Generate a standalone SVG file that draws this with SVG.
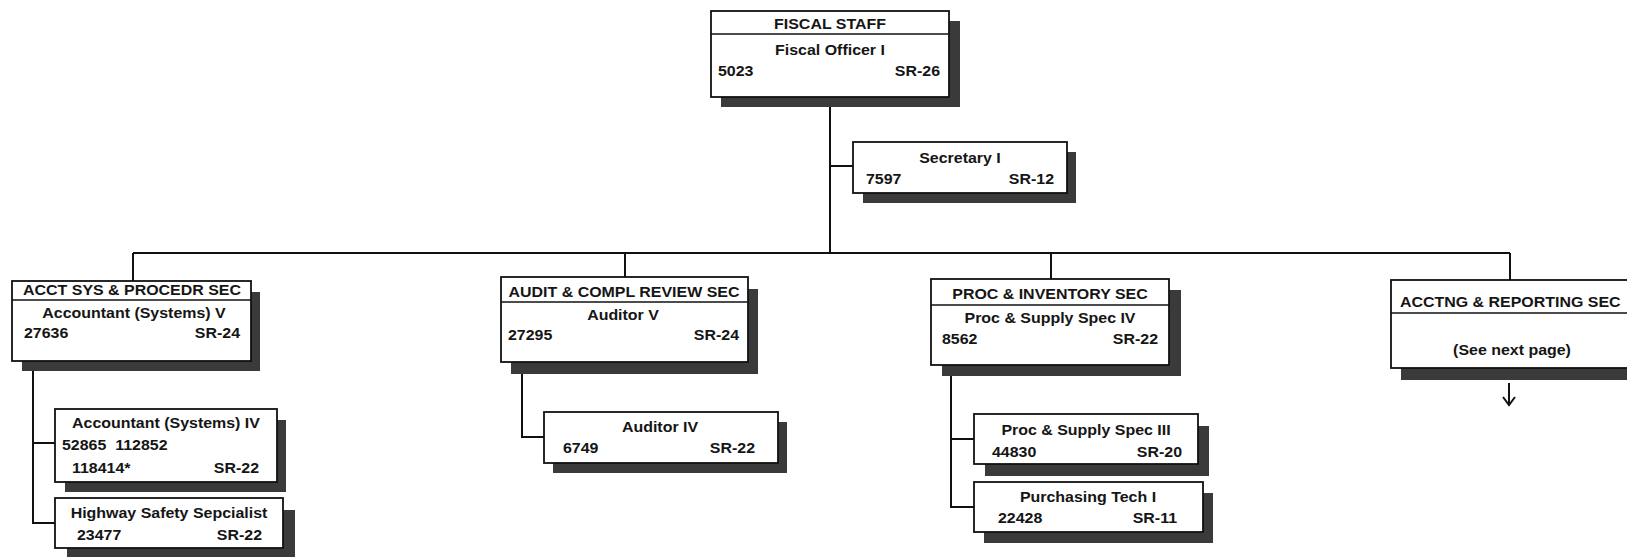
<svg xmlns="http://www.w3.org/2000/svg" width="1627" height="557" viewBox="0 0 1627 557">
<style>
.bg{fill:#ffffff}
.sh{fill:#3a3a3a}
.bx{fill:#ffffff;stroke:#111;stroke-width:1.8}
.ln{fill:none;stroke:#111;stroke-width:2}
.t{font-family:"Liberation Sans",Arial,Helvetica,sans-serif;font-weight:bold;font-size:14.5px;fill:#151515;white-space:pre}
.m{text-anchor:middle}
.e{text-anchor:end}
</style>
<rect class="bg" x="0" y="0" width="1627" height="557"/>
<g id="connectors">
<path class="ln" d="M830 97V253M830 166H853M133 253H1510M133 253V281M625 253V277M1051 253V279M1510 253V280"/>
<path class="ln" d="M33 361V523H55M33 443H55"/>
<path class="ln" d="M522 362V437H544"/>
<path class="ln" d="M951 365V507H974M951 439H974"/>
<path class="ln" d="M1509 383V405M1503 397L1509 405L1515 397"/>
</g>
<g id="fiscal-staff">
<rect class="sh" x="721" y="21" width="239" height="86"/>
<rect class="bx" x="711" y="11" width="238" height="86"/>
<path class="ln" d="M711 34H949" style="stroke-width:1.5"/>
<text class="t m" transform="translate(830 29) scale(1.1 1)">FISCAL STAFF</text>
<text class="t m" transform="translate(830 55) scale(1.1 1)">Fiscal Officer I</text>
<text class="t" transform="translate(718 76) scale(1.1 1)">5023</text>
<text class="t e" transform="translate(940 76) scale(1.1 1)">SR-26</text>
</g>
<g id="secretary">
<rect class="sh" x="863" y="152" width="213" height="51"/>
<rect class="bx" x="853" y="142" width="214" height="51"/>
<text class="t m" transform="translate(960 163) scale(1.1 1)">Secretary I</text>
<text class="t" transform="translate(866 184) scale(1.1 1)">7597</text>
<text class="t e" transform="translate(1054 184) scale(1.1 1)">SR-12</text>
</g>
<g id="acct-sys">
<rect class="sh" x="22" y="292" width="238" height="79"/>
<rect class="bx" x="12" y="281" width="239" height="80"/>
<path class="ln" d="M12 300H251" style="stroke-width:1.5"/>
<text class="t m" transform="translate(132 295) scale(1.1 1)">ACCT SYS &amp; PROCEDR SEC</text>
<text class="t m" transform="translate(134 318) scale(1.1 1)">Accountant (Systems) V</text>
<text class="t" transform="translate(24 338) scale(1.1 1)">27636</text>
<text class="t e" transform="translate(240 338) scale(1.1 1)">SR-24</text>
</g>
<g id="accountant-iv">
<rect class="sh" x="65" y="420" width="221" height="72"/>
<rect class="bx" x="55" y="409" width="222" height="73"/>
<text class="t m" transform="translate(166 428) scale(1.1 1)">Accountant (Systems) IV</text>
<text class="t" transform="translate(62 450) scale(1.1 1)" xml:space="preserve">52865  112852</text>
<text class="t" transform="translate(72 473) scale(1.1 1)">118414*</text>
<text class="t e" transform="translate(259 473) scale(1.1 1)">SR-22</text>
</g>
<g id="highway-safety">
<rect class="sh" x="67" y="510" width="228" height="50"/>
<rect class="bx" x="55" y="498" width="228" height="50"/>
<text class="t m" transform="translate(169 518) scale(1.1 1)">Highway Safety Sepcialist</text>
<text class="t" transform="translate(77 540) scale(1.1 1)">23477</text>
<text class="t e" transform="translate(262 540) scale(1.1 1)">SR-22</text>
</g>
<g id="audit">
<rect class="sh" x="511" y="289" width="247" height="85"/>
<rect class="bx" x="501" y="277" width="247" height="85"/>
<path class="ln" d="M501 302H748" style="stroke-width:1.5"/>
<text class="t m" transform="translate(624 297) scale(1.1 1)">AUDIT &amp; COMPL REVIEW SEC</text>
<text class="t m" transform="translate(623 320) scale(1.1 1)">Auditor V</text>
<text class="t" transform="translate(508 340) scale(1.1 1)">27295</text>
<text class="t e" transform="translate(739 340) scale(1.1 1)">SR-24</text>
</g>
<g id="auditor-iv">
<rect class="sh" x="553" y="422" width="234" height="51"/>
<rect class="bx" x="544" y="412" width="234" height="51"/>
<text class="t m" transform="translate(660 432) scale(1.1 1)">Auditor IV</text>
<text class="t" transform="translate(563 453) scale(1.1 1)">6749</text>
<text class="t e" transform="translate(755 453) scale(1.1 1)">SR-22</text>
</g>
<g id="proc-inventory">
<rect class="sh" x="942" y="290" width="239" height="86"/>
<rect class="bx" x="931" y="279" width="238" height="86"/>
<path class="ln" d="M931 305H1169" style="stroke-width:1.5"/>
<text class="t m" transform="translate(1050 299) scale(1.1 1)">PROC &amp; INVENTORY SEC</text>
<text class="t m" transform="translate(1050 323) scale(1.1 1)">Proc &amp; Supply Spec IV</text>
<text class="t" transform="translate(942 344) scale(1.1 1)">8562</text>
<text class="t e" transform="translate(1158 344) scale(1.1 1)">SR-22</text>
</g>
<g id="proc-supply-iii">
<rect class="sh" x="985" y="426" width="224" height="50"/>
<rect class="bx" x="974" y="414" width="224" height="50"/>
<text class="t m" transform="translate(1086 435) scale(1.1 1)">Proc &amp; Supply Spec III</text>
<text class="t" transform="translate(992 457) scale(1.1 1)">44830</text>
<text class="t e" transform="translate(1182 457) scale(1.1 1)">SR-20</text>
</g>
<g id="purchasing-tech">
<rect class="sh" x="984" y="493" width="229" height="50"/>
<rect class="bx" x="974" y="482" width="229" height="50"/>
<text class="t m" transform="translate(1088 502) scale(1.1 1)">Purchasing Tech I</text>
<text class="t" transform="translate(998 523) scale(1.1 1)">22428</text>
<text class="t e" transform="translate(1177 523) scale(1.1 1)">SR-11</text>
</g>
<g id="acctng-reporting">
<rect class="sh" x="1401" y="292" width="240" height="88"/>
<rect class="bx" x="1391" y="280" width="250" height="88"/>
<path class="ln" d="M1391 313H1641" style="stroke-width:1.5"/>
<text class="t" transform="translate(1400 307) scale(1.1 1)">ACCTNG &amp; REPORTING SEC</text>
<text class="t m" transform="translate(1512 355) scale(1.1 1)">(See next page)</text>
</g>
</svg>
